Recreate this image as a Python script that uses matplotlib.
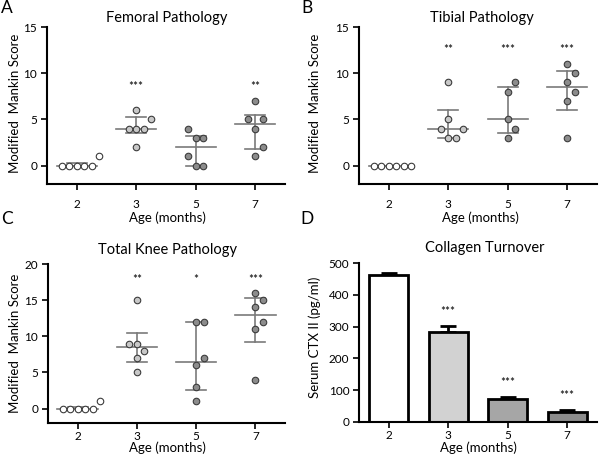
import numpy as np
import matplotlib
matplotlib.use("Agg")
import matplotlib.pyplot as plt

plt.rcParams['font.family'] = ['Lato', 'DejaVu Sans']

ages = ["2", "3", "5", "7"]

femoral = [
    [0, 0, 0, 0, 0, 1],
    [6, 5, 4, 4, 4, 2],
    [4, 3, 3, 1, 0, 0],
    [7, 5, 5, 4, 2, 1],
]
tibial = [
    [0, 0, 0, 0, 0, 0],
    [9, 5, 4, 4, 3, 3],
    [9, 8, 5, 4, 3],
    [11, 10, 9, 8, 7, 3],
]
total = [
    [0, 0, 0, 0, 0, 1],
    [15, 9, 9, 8, 7, 5],
    [12, 12, 7, 6, 3, 1],
    [16, 15, 14, 12, 11, 4],
]
femoral_sig = ["", "***", "", "**"]
tibial_sig = ["", "**", "***", "***"]
total_sig = ["", "**", "*", "***"]

ctx_mean = [462, 282, 73, 33]
ctx_sem = [8, 21, 6, 4]
ctx_sig = ["", "***", "***", "***"]

point_colors = ["#ffffff", "#c8c8c8", "#8c8c8c", "#8c8c8c"]
bar_colors = ["#ffffff", "#d2d2d2", "#a6a6a6", "#8c8c8c"]

W, H = 600, 461
fig = plt.figure(figsize=(6.0, 4.61), dpi=100)


def px_axes(l, t, r, b):
    return fig.add_axes([l / W, 1 - b / H, (r - l) / W, (b - t) / H])


def ftext(x, y, s, **kw):
    fig.text(x / W, 1 - y / H, s, ha="center", va="center", **kw)


def style(ax, xpad):
    for s in ["top", "right"]:
        ax.spines[s].set_visible(False)
    for s in ["left", "bottom"]:
        ax.spines[s].set_linewidth(1.5)
    ax.tick_params(axis="both", direction="out", length=4, width=1.2, labelsize=8.5, pad=3)
    ax.tick_params(axis="x", pad=xpad)
    ax.set_xticks(range(len(ages)))
    ax.set_xticklabels(ages)
    ax.set_xlim(-0.5, 3.5)


def swarm(ax, i, vals, dx_px=7.5, dy_px=10.0):
    trans = ax.transData
    placed = []
    order = np.argsort(np.array(vals, dtype=float), kind="stable")
    res = [None] * len(vals)
    for idx in order:
        v = vals[idx]
        cx, cy = trans.transform((i, v))
        cands = [0]
        for n in range(1, 12):
            cands += [n, -n]
        for c in cands:
            px = cx + c * dx_px
            ok = all(not (abs(px - qx) < dx_px * 0.95 and abs(cy - qy) < dy_px) for qx, qy in placed)
            if ok:
                placed.append((px, cy))
                break
        res[idx] = trans.inverted().transform((placed[-1][0], cy))[0]
    return res


def scatter_panel(ax, data, sig, ylim, yticks, sig_y, xpad):
    style(ax, xpad)
    ax.set_ylim(*ylim)
    ax.set_yticks(yticks)
    ax.spines["left"].set_bounds(ylim[0], yticks[-1])
    fig.canvas.draw()
    for i, vals in enumerate(data):
        xs = swarm(ax, i, vals)
        ax.scatter(xs, vals, s=22, facecolor=point_colors[i], edgecolor="#3c3c3c",
                   linewidth=0.8, zorder=3)
        arr = np.array(vals, dtype=float)
        med = np.median(arr)
        q1, q3 = np.percentile(arr, [25, 75], method="weibull")
        kw = dict(color="#7a7a7a", lw=1.2, zorder=2)
        ax.plot([i - 0.34, i + 0.34], [med, med], **kw)
        ax.plot([i, i], [q1, q3], **kw)
        ax.plot([i - 0.17, i + 0.17], [q1, q1], **kw)
        ax.plot([i - 0.17, i + 0.17], [q3, q3], **kw)
        if sig[i]:
            ax.text(i, sig_y, sig[i], ha="center", va="center", fontsize=8.5)


axA = px_axes(47, 27, 285, 184)
scatter_panel(axA, femoral, femoral_sig, (-2, 15), [0, 5, 10, 15], 8.6, 7)

axB = px_axes(359, 27, 597, 184)
scatter_panel(axB, tibial, tibial_sig, (-2, 15), [0, 5, 10, 15], 12.6, 7)

axC = px_axes(48, 264, 285, 423)
scatter_panel(axC, total, total_sig, (-2, 20), [0, 5, 10, 15, 20], 17.8, 2)

axD = px_axes(359, 263, 597, 422)
style(axD, 2)
axD.set_ylim(0, 500)
axD.set_yticks([0, 100, 200, 300, 400, 500])
x = np.arange(len(ages))
axD.errorbar(x, ctx_mean, yerr=[np.zeros(len(ctx_sem)), ctx_sem], fmt="none",
             ecolor="black", elinewidth=2, capsize=5.5, capthick=2, zorder=1)
axD.bar(x, ctx_mean, width=0.66, color=bar_colors, edgecolor="black", linewidth=2, zorder=2)
for i in range(len(ages)):
    if ctx_sig[i]:
        axD.text(i, ctx_mean[i] + ctx_sem[i] + 28, ctx_sig[i], ha="center", va="bottom", fontsize=8.5)

# titles
ftext(167, 18, "Femoral Pathology", fontsize=10.5)
ftext(482, 18, "Tibial Pathology", fontsize=10.5)
ftext(167, 250, "Total Knee Pathology", fontsize=10.5)
ftext(485, 248, "Collagen Turnover", fontsize=10.5)

# x labels
ftext(167, 218, "Age (months)", fontsize=9.5)
ftext(480, 218, "Age (months)", fontsize=9.5)
ftext(167, 448, "Age (months)", fontsize=9.5)
ftext(478, 448, "Age (months)", fontsize=9.5)

# y labels
ftext(15, 103, "Modified  Mankin Score", fontsize=9.5, rotation=90)
ftext(315, 103, "Modified  Mankin Score", fontsize=9.5, rotation=90)
ftext(15, 343, "Modified  Mankin Score", fontsize=9.5, rotation=90)
ftext(315, 337, "Serum CTX II (pg/ml)", fontsize=9.5, rotation=90)

# panel letters
for lab, xx, yy in [("A", 7, 8), ("B", 307, 8), ("C", 7, 219), ("D", 307, 219)]:
    ftext(xx, yy, lab, fontsize=12.5)

fig.savefig("out.png", dpi=100)
